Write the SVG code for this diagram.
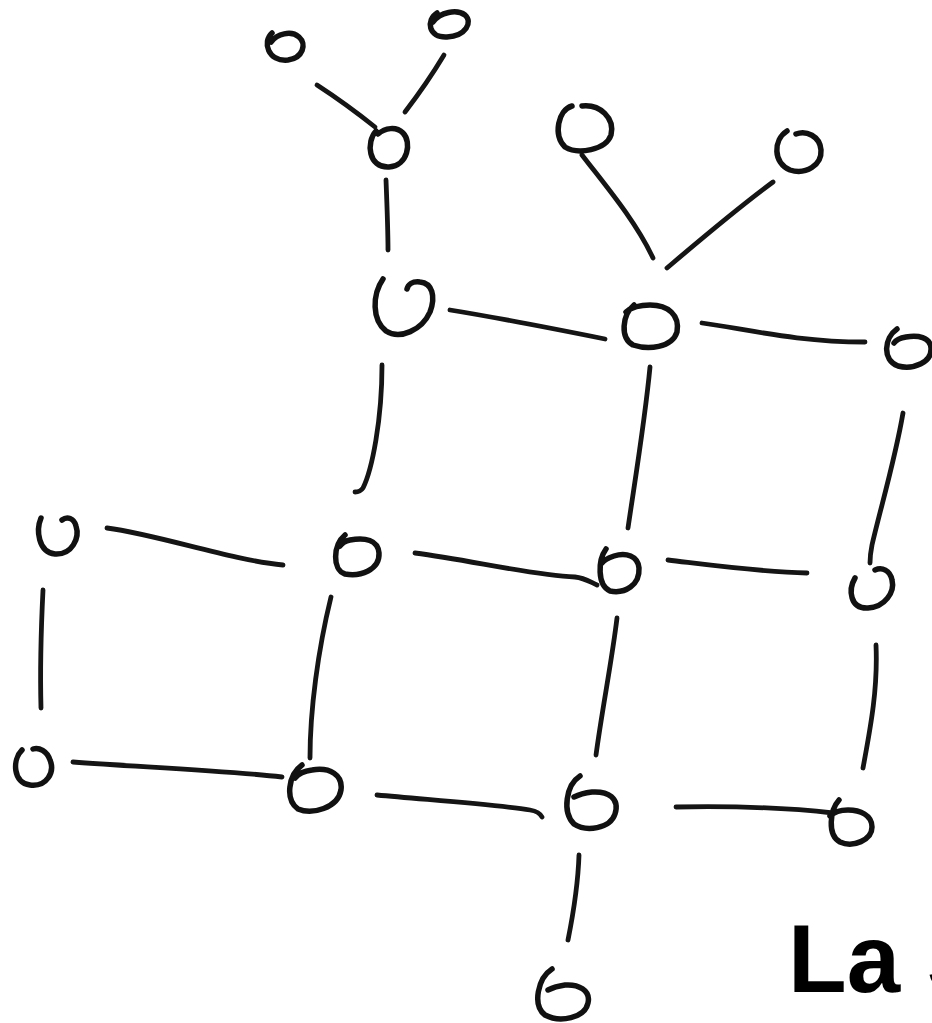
<svg xmlns="http://www.w3.org/2000/svg" width="932" height="1023" viewBox="0 0 932 1023">
<style>
.n{fill:none;stroke:#111;stroke-width:5.5;stroke-linecap:round;stroke-linejoin:round}
.e{fill:none;stroke:#151515;stroke-width:4.8;stroke-linecap:round}
.t{font-family:"Liberation Sans",Arial,sans-serif;font-weight:bold;font-size:96px;fill:#000}
</style>
<rect width="932" height="1023" fill="#fff"/>
<g id="connectors">
<path class="e" d="M317 85 C340 100 360 115 375 127"/>
<path class="e" d="M444 55 C432 75 418 95 405 112"/>
<path class="e" d="M386 180 C387 205 388 230 388 250"/>
<path class="e" d="M582 155 C605 185 635 220 653 258"/>
<path class="e" d="M773 182 C735 210 700 240 667 268"/>
<path class="e" d="M450 310 C500 318 560 330 605 339"/>
<path class="e" d="M702 323 C750 330 800 342 865 342"/>
<path class="e" d="M382 365 C382 420 372 470 363 488 C361 491 358 492 355 492"/>
<path class="e" d="M650 367 C645 420 635 480 628 528"/>
<path class="e" d="M903 413 C895 460 880 510 872 545 C870 555 870 560 870 563"/>
<path class="e" d="M107 528 C160 535 230 560 283 565"/>
<path class="e" d="M415 553 C470 560 530 575 575 577 C585 578 590 582 597 585"/>
<path class="e" d="M668 560 C710 565 760 572 807 573"/>
<path class="e" d="M43 590 C41 630 40 670 41 708"/>
<path class="e" d="M331 597 C318 650 310 710 310 758"/>
<path class="e" d="M617 618 C612 660 602 710 596 755"/>
<path class="e" d="M876 645 C878 690 870 730 863 768"/>
<path class="e" d="M73 762 C140 767 220 770 282 777"/>
<path class="e" d="M377 795 C430 800 500 805 530 810 C536 811 540 813 542 817"/>
<path class="e" d="M676 807 C730 806 790 808 833 813"/>
<path class="e" d="M579 855 C578 885 573 915 568 940"/>
</g>
<g id="node1"><path class="n" d="M272 33 C262 42 268 62 288 60 C303 58 307 44 299 37 C291 30 277 34 271 42"/></g>
<g id="node2"><path class="n" d="M437 13 C426 20 428 38 447 37 C466 36 473 22 465 15 C457 9 440 12 433 22"/></g>
<g id="node3"><path class="n" d="M376 131 C366 142 368 168 389 167 C408 166 412 142 403 133 C396 126 385 128 378 134"/></g>
<g id="node4"><path class="n" d="M572 106 C558 110 553 135 565 147 C578 155 606 150 611 135 C615 118 600 104 582 106"/></g>
<g id="node5"><path class="n" d="M787 131 C773 140 773 163 790 170 C806 175 822 165 821 150 C820 136 806 130 796 134"/></g>
<g id="node6"><path class="n" d="M383 279 C372 295 372 320 386 331 C400 340 422 330 430 312 C436 296 432 283 420 282 C412 281 408 285 407 289"/></g>
<g id="node7"><path class="n" d="M634 305 C622 315 620 338 633 345 C648 350 672 348 677 332 C680 315 668 305 650 305 C640 305 632 307 626 312"/></g>
<g id="node8"><path class="n" d="M897 329 C884 338 882 360 898 366 C914 370 932 362 931 348 C930 337 918 335 906 337 C900 338 896 340 894 343"/></g>
<g id="node9"><path class="n" d="M41 518 C36 530 38 552 55 554 C72 555 80 538 76 526 C74 518 67 516 62 520"/></g>
<g id="node10"><path class="n" d="M345 535 C333 545 332 570 345 574 C360 577 380 570 379 553 C378 540 365 537 350 540 C345 541 342 543 340 546"/></g>
<g id="node11"><path class="n" d="M606 549 C598 560 597 585 610 591 C625 594 640 585 639 568 C638 556 626 552 614 556 C608 558 604 560 602 563"/></g>
<g id="node12"><path class="n" d="M855 578 C848 590 850 609 868 608 C885 607 895 592 892 580 C890 570 882 567 875 570"/></g>
<g id="node13"><path class="n" d="M22 750 C12 760 13 783 30 785 C47 787 55 772 50 760 C47 751 39 747 33 749"/></g>
<g id="node14"><path class="n" d="M302 765 C288 775 285 800 298 809 C312 815 338 808 341 790 C343 775 330 767 312 770 C304 771 298 774 295 778"/></g>
<g id="node15"><path class="n" d="M580 776 C566 785 562 812 574 824 C586 832 610 829 615 814 C620 798 608 791 592 792 C584 793 578 795 574 797"/></g>
<g id="node16"><path class="n" d="M839 800 C830 810 827 835 840 842 C853 848 872 840 872 827 C872 815 860 810 848 810 C840 810 834 812 830 816"/></g>
<g id="node17"><path class="n" d="M552 969 C538 978 532 1005 545 1015 C560 1023 585 1018 588 1003 C591 990 578 984 565 985 C558 986 552 988 548 990"/></g>
<text class="t" x="788" y="992">La S</text>
</svg>
